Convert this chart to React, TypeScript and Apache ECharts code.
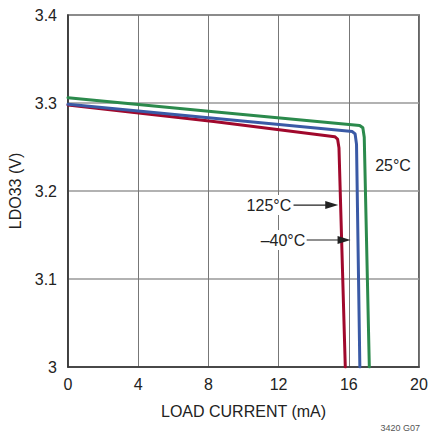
import React, { useEffect, useRef } from "react";
import * as echarts from "echarts";

const xTicks = [0, 4, 8, 12, 16, 20];
const yTicks = [3, 3.1, 3.2, 3.3, 3.4];
const seriesNames = ["125°C", "–40°C", "25°C"];
const red125: [number, number][] = [[0, 3.2977], [8.3, 3.279], [15.2, 3.2617], [15.36, 3.259], [15.44, 3.249], [15.8, 3.0]];
const blueM40: [number, number][] = [[0, 3.2985], [8.3, 3.2826], [16.2, 3.2675], [16.36, 3.2648], [16.44, 3.253], [16.63, 3.0]];
const green25: [number, number][] = [[0, 3.306], [8.3, 3.29], [16.62, 3.2745], [16.8, 3.2718], [16.88, 3.261], [17.17, 3.0]];
const colors = ["#a0082c", "#3a5aa6", "#2b8a4c"];

// annotation anchors in data coordinates
const label25 = { text: "25°C", x: 18.52, y: 3.2295 };
const label125 = { text: "125°C", x: 11.45, y: 3.184, arrowFrom: 12.85, arrowTo: 15.4 };
const labelM40 = { text: "–40°C", x: 12.25, y: 3.1443, arrowFrom: 13.6, arrowTo: 16.1 };

const FONT = "'Liberation Sans', Arial, sans-serif";

export default function App() {
  const ref = useRef<HTMLDivElement>(null);
  useEffect(() => {
    if (!ref.current) return;
    const chart = echarts.init(ref.current, undefined, { renderer: "svg" });
    const data = [red125, blueM40, green25];
    chart.setOption({
      animation: false,
      backgroundColor: "#fff",
      grid: {
        left: 68, right: 9, top: 15, bottom: 67,
        containLabel: false,
        outerBoundsMode: "none",
        show: true, borderColor: "#333", borderWidth: 1.5, backgroundColor: "transparent",
      },
      xAxis: {
        type: "value",
        min: 0,
        max: 20,
        interval: 4,
        name: "LOAD CURRENT (mA)",
        nameLocation: "middle",
        nameGap: 36,
        nameTextStyle: { fontFamily: FONT, fontSize: 16, color: "#222" },
        axisLine: { show: true, lineStyle: { color: "#333", width: 1.5 } },
        axisTick: { show: false },
        axisLabel: { fontFamily: FONT, fontSize: 16, color: "#222", margin: 9, formatter: (v: number) => (xTicks.includes(v) ? String(v) : "") },
        splitLine: { show: true, lineStyle: { color: "#777", width: 1 } },
      },
      yAxis: {
        type: "value",
        min: 3,
        max: 3.4,
        interval: 0.1,
        name: "LDO33 (V)",
        nameLocation: "middle",
        nameGap: 43,
        nameTextStyle: { fontFamily: FONT, fontSize: 16, color: "#222" },
        axisLine: { show: true, lineStyle: { color: "#333", width: 1.5 } },
        axisTick: { show: false },
        axisLabel: {
          fontFamily: FONT,
          fontSize: 16,
          color: "#222",
          margin: 11,
          formatter: (v: number) => {
            const t = yTicks.find((k) => Math.abs(k - v) < 1e-6);
            return t === undefined ? "" : t === 3 ? "3" : t.toFixed(1);
          },
        },
        splitLine: { show: true, lineStyle: { color: "#999", width: 1.5 } },
      },
      series: data.map((d, i) => ({
        name: seriesNames[i],
        type: "line",
        data: d,
        showSymbol: false,
        symbol: "none",
        smooth: false,
        lineStyle: { color: colors[i], width: 3, join: "round", cap: "round" },
        z: 3 + i,
      })),
    });

    const px = (x: number, y: number) => chart.convertToPixel({ gridIndex: 0 }, [x, y]) as number[];
    const textEl = (t: string, p: number[]) => ({
      type: "text",
      z: 10,
      style: {
        text: t,
        x: p[0],
        y: p[1],
        align: "center",
        verticalAlign: "middle",
        fill: "#222",
        font: `16px ${FONT}`,
        backgroundColor: "#fff",
        padding: [2, 2],
      },
    });
    const arrow = (x1: number, x2: number, y: number) => {
      const a = px(x1, y);
      const b = px(x2, y);
      return [
        { type: "line", z: 10, shape: { x1: a[0], y1: a[1], x2: b[0] - 10, y2: b[1] }, style: { stroke: "#222", lineWidth: 1.2 } },
        { type: "polygon", z: 10, shape: { points: [[b[0], b[1]], [b[0] - 13, b[1] - 4], [b[0] - 13, b[1] + 4]] }, style: { fill: "#222" } },
      ];
    };
    chart.setOption({
      graphic: [
        textEl(label25.text, px(label25.x, label25.y)),
        textEl(label125.text, px(label125.x, label125.y)),
        textEl(labelM40.text, px(labelM40.x, labelM40.y)),
        ...arrow(label125.arrowFrom, label125.arrowTo, label125.y),
        ...arrow(labelM40.arrowFrom, labelM40.arrowTo, labelM40.y),
        {
          type: "text",
          z: 10,
          style: { text: "3420 G07", x: 420, y: 423, align: "right", verticalAlign: "top", fill: "#555", font: `9px ${FONT}` },
        },
      ],
    });
    return () => chart.dispose();
  }, []);
  return <div ref={ref} style={{ position: "absolute", left: 0, top: 0, width: 428, height: 434 }} />;
}
